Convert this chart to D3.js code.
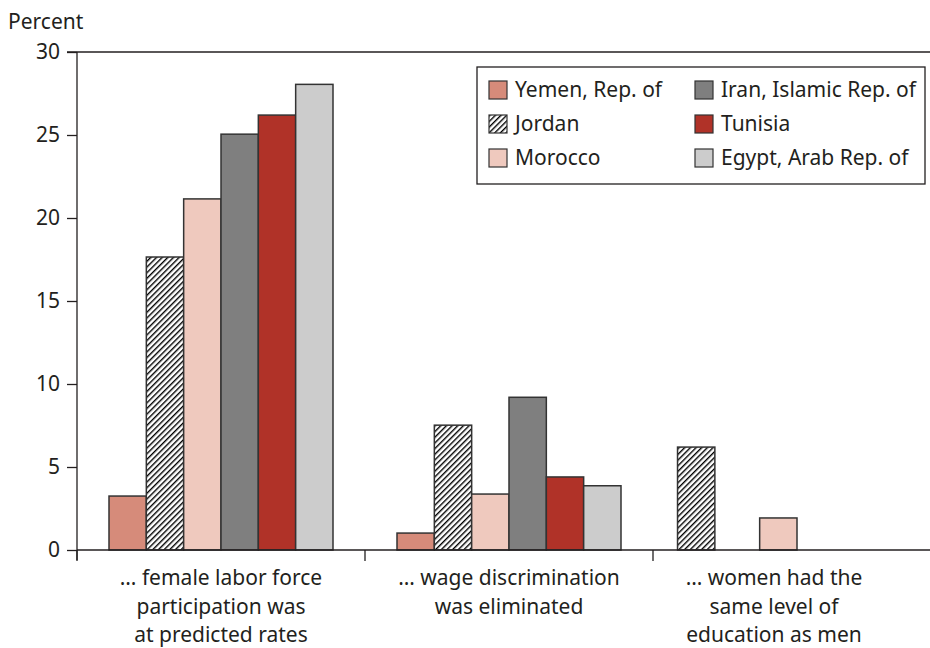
<!DOCTYPE html>
<html>
<head>
<meta charset="utf-8">
<script src="https://cdn.jsdelivr.net/npm/d3@7"></script>
<style>
  body { margin: 0; background: #fff; }
  text { font-family: "Noto Sans", sans-serif; fill: #231f20; }
</style>
</head>
<body>
<script>
// data
var countries = ["Yemen, Rep. of", "Jordan", "Morocco", "Iran, Islamic Rep. of", "Tunisia", "Egypt, Arab Rep. of"];
var groups = ["labor", "wage", "education"];
var groupLabels = [
  ["\u2026 female labor force", "participation was", "at predicted rates"],
  ["\u2026 wage discrimination", "was eliminated"],
  ["\u2026 women had the", "same level of", "education as men"]
];
var laborValues = [3.25, 17.65, 21.15, 25.05, 26.2, 28.05];
var wageValues = [1.02, 7.52, 3.37, 9.2, 4.4, 3.87];
var educationValues = [null, 6.2, 1.93, null, null, null];
var yTicks = [0, 5, 10, 15, 20, 25, 30];

var colors = ["#d68b7a", "url(#hatch)", "#efc9be", "#7f7f7f", "#b03228", "#cccccc"];

var w = 930, h = 648;

var svg = d3.select("body").append("svg")
    .attr("width", w)
    .attr("height", h);

var defs = svg.append("defs");
var pat = defs.append("pattern")
    .attr("id", "hatch")
    .attr("patternUnits", "userSpaceOnUse")
    .attr("width", 4).attr("height", 4)
    .attr("patternTransform", "rotate(45)");
pat.append("rect").attr("width", 4).attr("height", 4).attr("fill", "#fff");
pat.append("line").attr("x1", 0.7).attr("y1", 0).attr("x2", 0.7).attr("y2", 4)
    .attr("stroke", "#000").attr("stroke-width", 1.4);

var y = d3.scaleLinear().domain([0, 30]).range([550, 52]);
var x0 = d3.scaleBand().domain(groups).range([77, 941]);
var x1 = d3.scaleBand().domain(d3.range(countries.length))
    .range([32, 288 - 32]);

// small manual nudge for the lone Jordan bar in the education group
var slotShift = {education: {1: -1.2}};

var allValues = [laborValues, wageValues, educationValues];
var bars = [];
groups.forEach(function(g, gi) {
  allValues[gi].forEach(function(v, ci) {
    if (v != null) bars.push({group: g, ci: ci, value: v});
  });
});

// top line
svg.append("line")
    .attr("x1", 67).attr("x2", w)
    .attr("y1", y(30)).attr("y2", y(30))
    .attr("stroke", "#231f20").attr("stroke-width", 1.3);

// y axis
var yAxis = d3.axisLeft(y).tickValues(yTicks).tickSize(10).tickPadding(7);
var gy = svg.append("g").attr("transform", "translate(77,0)").call(yAxis);
gy.select(".domain").attr("stroke", "#231f20").attr("stroke-width", 1.3)
    .attr("d", "M0," + y(30) + "V560");
gy.selectAll(".tick line").attr("stroke", "#231f20").attr("stroke-width", 1.3);
gy.selectAll(".tick text")
    .style("font-family", "Noto Sans, sans-serif")
    .style("font-size", "21px")
    .attr("fill", "#231f20");

svg.append("text")
    .attr("x", 8).attr("y", 29)
    .style("font-size", "21px")
    .text("Percent");

// bars
svg.append("g").selectAll("rect")
    .data(bars)
    .enter()
    .append("rect")
    .attr("x", function(d) {
      var s = (slotShift[d.group] && slotShift[d.group][d.ci]) || 0;
      return x0(d.group) + x1(d.ci) + s * x1.bandwidth();
    })
    .attr("y", function(d) { return y(d.value); })
    .attr("width", x1.bandwidth())
    .attr("height", function(d) { return y(0) - y(d.value); })
    .attr("fill", function(d) { return colors[d.ci]; })
    .attr("stroke", "#333")
    .attr("stroke-width", 1.5);

// x axis baseline
svg.append("line")
    .attr("x1", 77).attr("x2", w)
    .attr("y1", y(0)).attr("y2", y(0))
    .attr("stroke", "#231f20").attr("stroke-width", 1.3);

svg.append("g").selectAll("line")
    .data(groups)
    .enter()
    .append("line")
    .attr("x1", function(d) { return x0(d); })
    .attr("x2", function(d) { return x0(d); })
    .attr("y1", y(0)).attr("y2", y(0) + 11)
    .attr("stroke", "#231f20").attr("stroke-width", 1.3);

// category labels
var labelCenters = [221, 509, 774];
groups.forEach(function(g, gi) {
  var t = svg.append("text")
      .attr("text-anchor", "middle")
      .style("font-size", "21px");
  groupLabels[gi].forEach(function(line, li) {
    t.append("tspan")
        .attr("x", labelCenters[gi])
        .attr("y", 585 + li * 28.5)
        .text(line);
  });
});

// legend
var legend = svg.append("g").attr("transform", "translate(477,67)");
legend.append("rect")
    .attr("width", 448).attr("height", 117)
    .attr("fill", "#fff")
    .attr("stroke", "#231f20").attr("stroke-width", 1.3);

var items = legend.selectAll(".item")
    .data(countries)
    .enter()
    .append("g")
    .attr("class", "item")
    .attr("transform", function(d, i) {
      var col = Math.floor(i / 3), row = i % 3;
      return "translate(" + (12 + col * 206) + "," + (14 + row * 34) + ")";
    });

items.append("rect")
    .attr("width", 18).attr("height", 18)
    .attr("fill", function(d, i) { return colors[i]; })
    .attr("stroke", "#333").attr("stroke-width", 1.2);

items.append("text")
    .attr("x", 26).attr("y", 16)
    .style("font-size", "21px")
    .text(function(d) { return d; });
</script>
</body>
</html>
